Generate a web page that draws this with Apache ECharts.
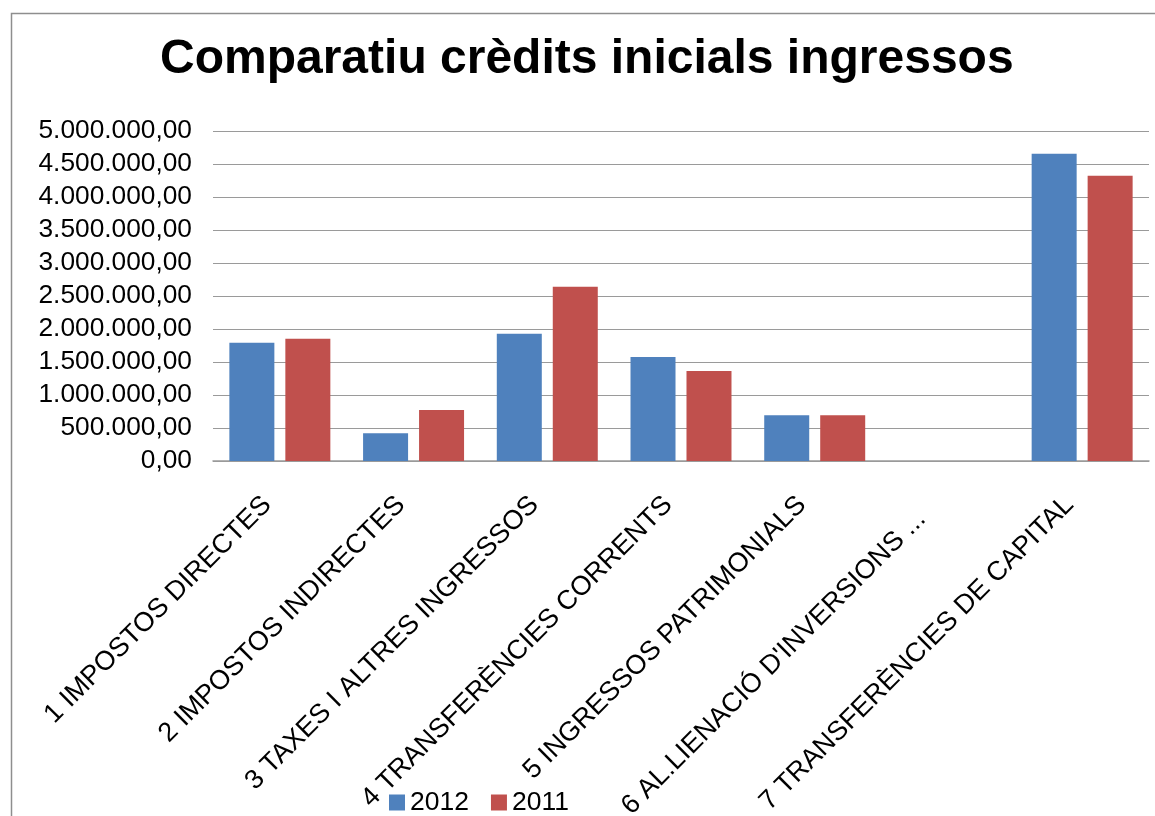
<!DOCTYPE html>
<html>
<head>
<meta charset="utf-8">
<script src="https://cdn.jsdelivr.net/npm/echarts@6/dist/echarts.min.js"></script>
<style>
html,body{margin:0;padding:0;background:#fff;}
#chart{width:1155px;height:816px;}
</style>
</head>
<body>
<div id="chart"></div>
<script>
const categories = [
  '1 IMPOSTOS DIRECTES',
  '2 IMPOSTOS INDIRECTES',
  '3 TAXES I ALTRES INGRESSOS',
  '4 TRANSFERÈNCIES CORRENTS',
  '5 INGRESSOS PATRIMONIALS',
  "6 AL.LIENACIÓ D'INVERSIONS ...",
  '7 TRANSFERÈNCIES DE CAPITAL'
];
const values2012 = [1790000, 421000, 1927000, 1577000, 695000, 0, 4656000];
const values2011 = [1851000, 771000, 2642000, 1364000, 695000, 0, 4322000];
const yTickMin = 0;
const yTickMax = 5000000;
const yTickStep = 500000;

function fmt(v) {
  const parts = Math.round(v).toString().replace(/\B(?=(\d{3})+(?!\d))/g, '.');
  return parts + ',00';
}

const FONT = 'Liberation Sans, Arial, sans-serif';
const chart = echarts.init(document.getElementById('chart'), null, {renderer: 'canvas'});

const xData = categories.map((c, i) => {
  if (i === 5) {
    return {value: c, textStyle: {padding: [0, 38, 0, 0]}};
  }
  return c;
});

chart.setOption({
  animation: false,
  backgroundColor: '#ffffff',
  graphic: [{
    type: 'rect',
    left: 9, top: 11,
    shape: {x: 0, y: 0, width: 1170, height: 830},
    style: {fill: 'none', stroke: '#8e8e8e', lineWidth: 1.5},
    silent: true,
    z: -1
  }],
  title: {
    text: 'Comparatiu crèdits inicials ingressos',
    left: 155,
    top: 31,
    textStyle: {fontFamily: FONT, fontSize: 48, fontWeight: 'bold', color: '#000'}
  },
  legend: {
    data: ['2012', '2011'],
    left: 389,
    top: 789,
    padding: 0,
    icon: 'rect',
    itemWidth: 16,
    itemHeight: 16,
    itemGap: 22,
    textStyle: {fontFamily: FONT, fontSize: 26.5, color: '#000'}
  },
  grid: {left: 213, right: 6, top: 131, bottom: 355, containLabel: false, outerBoundsMode: 'none'},
  xAxis: {
    type: 'category',
    data: xData,
    axisLine: {lineStyle: {color: '#9a9a9a', width: 1.5}},
    axisTick: {show: false},
    axisLabel: {
      interval: 0,
      rotate: 45,
      margin: 27,
      padding: [0, 18, 0, 0],
      fontFamily: FONT,
      fontSize: 27,
      color: '#000'
    }
  },
  yAxis: {
    type: 'value',
    min: yTickMin,
    max: yTickMax,
    interval: yTickStep,
    axisLine: {show: false},
    axisTick: {show: false},
    splitLine: {lineStyle: {color: '#9a9a9a', width: 1}},
    axisLabel: {
      margin: 21,
      fontFamily: FONT,
      fontSize: 26.3,
      color: '#000',
      formatter: fmt
    }
  },
  series: [
    {
      name: '2012',
      type: 'bar',
      data: values2012,
      barWidth: 45,
      barGap: '24.4%',
      itemStyle: {color: '#4F81BD'}
    },
    {
      name: '2011',
      type: 'bar',
      data: values2011,
      barWidth: 45,
      barGap: '24.4%',
      itemStyle: {color: '#C0504D'}
    }
  ]
});
</script>
</body>
</html>
